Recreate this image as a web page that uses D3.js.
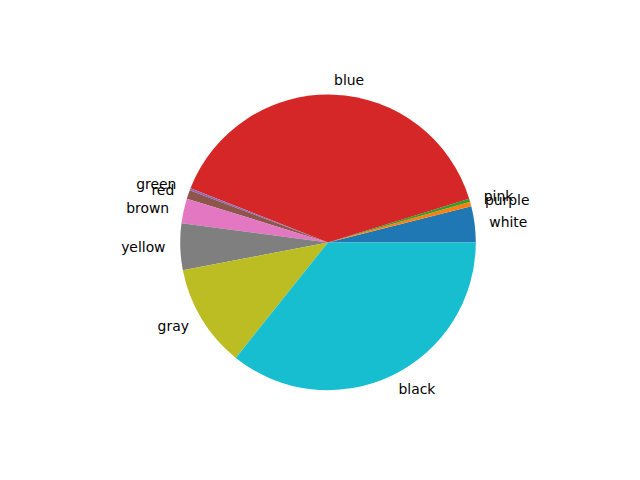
<!DOCTYPE html>
<html>
<head>
<meta charset="utf-8">
<script src="https://cdn.jsdelivr.net/npm/d3@7"></script>
<style>
    body { margin: 0; background: #fff; }
    svg { display: block; }
</style>
</head>
<body>
<svg id="chart" width="640" height="480"></svg>
<script>
    // wedge labels, in drawing order (counterclockwise from 3 o'clock)
    var labels = ["white", "purple", "pink", "blue", "green", "red", "brown", "yellow", "gray", "black"];
    // wedge sizes
    var values = [14.2, 1.8, 1.2, 141.3, 0.8, 3.5, 9.8, 18.3, 40.5, 128.6];
    // default matplotlib cycle
    var colours = ["#1f77b4", "#ff7f0e", "#2ca02c", "#d62728", "#9467bd",
                   "#8c564b", "#e377c2", "#7f7f7f", "#bcbd22", "#17becf"];

    var width = 640, height = 480;
    var c_x = 328, c_y = 242.4;
    var radius = 147.8;

    var svg = d3.select("#chart");
    var g = svg.append("g")
        .attr("transform", "translate(" + c_x + "," + c_y + ")");

    var colour = d3.scaleOrdinal().domain(labels).range(colours);

    // d3 measures from 12 o'clock clockwise, so start at pi/2 and go backwards
    var pie = d3.pie()
        .sort(null)
        .value(function(d) { return d.value; })
        .startAngle(Math.PI / 2)
        .endAngle(Math.PI / 2 - 2 * Math.PI);

    var data = labels.map(function(l, i) { return {label: l, value: values[i]}; });
    var arcs = pie(data);

    var arc = d3.arc().innerRadius(0).outerRadius(radius);

    g.selectAll("path.wedge")
        .data(arcs)
        .enter().append("path")
        .attr("class", "wedge")
        .attr("d", arc)
        .attr("fill", function(d) { return colour(d.data.label); });

    // labels sit at 1.1 * radius on the middle angle
    g.selectAll("text.label")
        .data(arcs)
        .enter().append("text")
        .attr("class", "label")
        .attr("x", function(d) {
            var a = (d.startAngle + d.endAngle) / 2;
            return 1.1 * radius * Math.sin(a);
        })
        .attr("y", function(d) {
            var a = (d.startAngle + d.endAngle) / 2;
            return -1.1 * radius * Math.cos(a);
        })
        .attr("text-anchor", function(d) {
            var a = (d.startAngle + d.endAngle) / 2;
            return Math.sin(a) > 0 ? "start" : "end";
        })
        .attr("dominant-baseline", "central")
        .attr("font-family", "DejaVu Sans, sans-serif")
        .attr("font-size", "13.9px")
        .attr("fill", "#000")
        .text(function(d) { return d.data.label; });
</script>
</body>
</html>
